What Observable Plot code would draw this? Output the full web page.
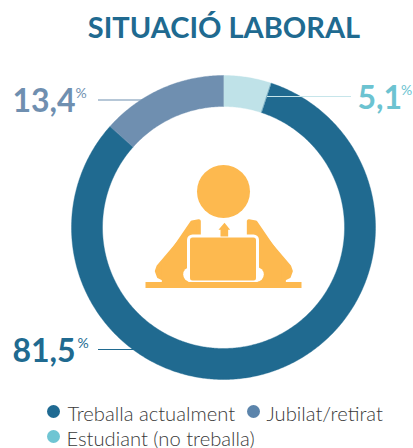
<!DOCTYPE html>
<html>
<head>
<meta charset="utf-8">
<script src="https://cdn.jsdelivr.net/npm/d3@7"></script>
<script src="https://cdn.jsdelivr.net/npm/@observablehq/plot@0.6"></script>
<style>
html,body{margin:0;padding:0;background:#fff}
svg{display:block}
</style>
</head>
<body>
<div id="chart"></div>
<script>
const categories = ["Estudiant (no treballa)", "Treballa actualment", "Jubilat/retirat"];
const values = [5.1, 81.5, 13.4];
const valueLabels = ["5,1", "81,5", "13,4"];
const sliceColors = ["#bfe2e8", "#206a90", "#6f8fb0"];
const labelColors = ["#6cc3d1", "#206a90", "#6f8fb0"];
const legendColors = ["#6fc5d3", "#1f6a92", "#5b84ab"];
const titleText = "SITUACIÓ LABORAL";

// Ring geometry (screen units of the identity scales)
const cx = 223, cy = 227, outerR = 152, innerR = 121;
const total = d3.sum(values);
let cumulative = 0;
const ring = [];
categories.forEach((cat, i) => {
  const a0 = cumulative / total * 2 * Math.PI;
  cumulative += values[i];
  const a1 = cumulative / total * 2 * Math.PI;
  const steps = Math.max(2, Math.ceil((a1 - a0) / 0.01));
  const at = (r, a) => ({cat, x: cx + r * Math.sin(a), y: cy - r * Math.cos(a)});
  for (let s = 0; s <= steps; s++) ring.push(at(outerR, a0 + (a1 - a0) * s / steps));
  for (let s = steps; s >= 0; s--) ring.push(at(innerR, a0 + (a1 - a0) * s / steps));
});

// Icon
const yellow = "#fdb94f";
const z = ([px, py]) => ({x: 130 + px / 3, y: 150 + py / 3});
const poly = (name, pts) => pts.map(p => ({name, ...z(p)}));
const icon = [
  ...poly("armL", [[199,219],[199,300],[100,385],[85,378],[79,362],[84,348],[188,226]]),
  ...poly("armL2", [[205,212],[205,395],[100,395],[100,340],[185,216]]),
  ...poly("armR", [[361,219],[361,300],[460,385],[475,378],[481,362],[476,348],[372,226]]),
  ...poly("armR2", [[355,212],[355,395],[460,395],[460,340],[375,216]]),
];
const tie = poly("tie", [[282,217],[299,238],[293,238],[293,258],[270,258],[270,238],[264,238]]);

const labels = [
  {t: valueLabels[0], x: 357, y: 108, c: labelColors[0], px: 400.5, py: 90},
  {t: valueLabels[1], x: 12, y: 361, c: labelColors[1], px: 77, py: 343},
  {t: valueLabels[2], x: 12, y: 111, c: labelColors[2], px: 75, py: 93}
];
const leaders = [
  {x1: 267, x2: 351, y: 96, c: "#c6e5ea"},
  {x1: 98, x2: 143, y: 99.5, c: labelColors[2]},
  {x1: 98, x2: 135, y: 349, c: labelColors[1]}
];
const legend = [
  {t: categories[1], dx: 53, tx: 67, y: 411, ty: 420, c: legendColors[1]},
  {t: categories[2], dx: 253, tx: 266, y: 411, ty: 420, c: legendColors[2]},
  {t: categories[0], dx: 53, tx: 66, y: 436, ty: 445, c: legendColors[0]}
];

const plot = Plot.plot({
  width: 413, height: 448,
  margin: 0,
  style: {background: "#fff", fontFamily: "Lato"},
  x: {domain: [0, 413], range: [0, 413], axis: null},
  y: {domain: [0, 448], range: [0, 448], axis: null},
  color: {domain: categories, range: sliceColors},
  marks: [
    Plot.line(ring, {x: "x", y: "y", z: "cat", fill: "cat", stroke: "cat", strokeWidth: 0.4, curve: "linear-closed"}),
    Plot.ruleY(leaders, {x1: "x1", x2: "x2", y: "y", stroke: d => d.c, strokeWidth: 1.2}),
    // icon
    Plot.dot([{x: 223, y: 191}], {x: "x", y: "y", r: 26.5, fill: yellow, stroke: "none"}),
    Plot.line(icon, {x: "x", y: "y", z: "name", fill: yellow, stroke: yellow, strokeWidth: 4, strokeLinejoin: "round", curve: "linear-closed"}),
    Plot.dot([{x: 190, y: 274}, {x: 256, y: 274}], {x: "x", y: "y", r: 7.3, fill: "#fff", stroke: "none"}),
    Plot.rect([{x1: 188.5, x2: 257.5, y1: 236, y2: 282}], {x1: "x1", x2: "x2", y1: "y1", y2: "y2", fill: yellow, stroke: "#fff", strokeWidth: 3, rx: 4}),
    Plot.rect([{x1: 145.5, x2: 301.5, y1: 282, y2: 288}], {x1: "x1", x2: "x2", y1: "y1", y2: "y2", fill: yellow}),
    Plot.line(tie, {x: "x", y: "y", fill: yellow, stroke: "none", curve: "linear-closed"}),
    // title
    Plot.text([titleText], {x: () => 223.5, y: () => 37, text: d => d, fill: "#206a90", fontSize: 29, fontWeight: 700, textAnchor: "middle", lineAnchor: "bottom"}),
    // value labels
    Plot.text(labels, {x: "x", y: "y", text: "t", fill: d => d.c, fontSize: 32, fontWeight: 700, textAnchor: "start", lineAnchor: "bottom"}),
    Plot.text(labels, {x: "px", y: "py", text: () => "%", fill: d => d.c, fontSize: 14, fontWeight: 400, textAnchor: "start", lineAnchor: "middle"}),
    // legend
    Plot.dot(legend, {x: "dx", y: "y", r: 6.5, fill: d => d.c, stroke: "none"}),
    Plot.text(legend, {x: "tx", y: "ty", text: "t", fill: "#3a3a3a", fontSize: 20.2, fontWeight: 300, textAnchor: "start", lineAnchor: "bottom"})
  ]
});
document.getElementById("chart").append(plot);
</script>
</body>
</html>
